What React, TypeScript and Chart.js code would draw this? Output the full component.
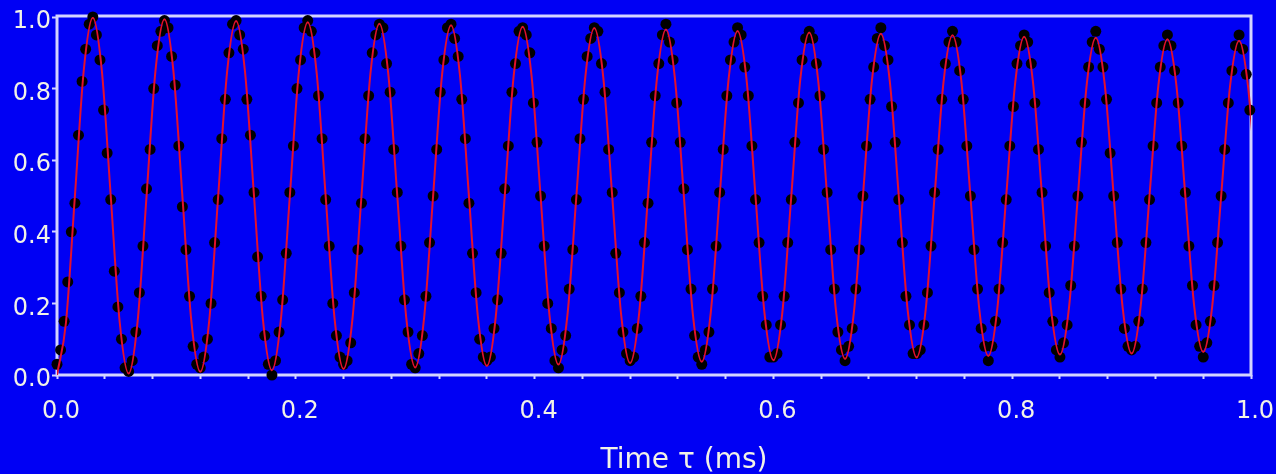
import React, { useEffect, useRef } from "react";
import { Chart, registerables } from "chart.js";

Chart.register(...registerables);

// ---- data ----
const X_TICK_LABELS = ["0.0", "0.2", "0.4", "0.6", "0.8", "1.0"];
const Y_TICK_LABELS = ["0.0", "0.2", "0.4", "0.6", "0.8", "1.0"];
const X_TITLE = "Time τ (ms)";

// measured points: one sample every SAMPLE_STEP ms starting at 0
const SAMPLE_STEP = 0.003;
const measured = [
  0.03, 0.07, 0.15, 0.26, 0.40, 0.48, 0.67, 0.82, 0.91, 0.98, 1.0, 0.95, 0.88, 0.74, 0.62, 0.49, 0.29, 0.19, 0.10, 0.02,
  0.01, 0.04, 0.12, 0.23, 0.36, 0.52, 0.63, 0.80, 0.92, 0.96, 0.99, 0.97, 0.89, 0.81, 0.64, 0.47, 0.35, 0.22, 0.08, 0.03,
  0.02, 0.05, 0.10, 0.20, 0.37, 0.49, 0.66, 0.77, 0.90, 0.98, 0.99, 0.95, 0.91, 0.77, 0.67, 0.51, 0.33, 0.22, 0.11, 0.03,
  0.00, 0.04, 0.12, 0.21, 0.34, 0.51, 0.64, 0.80, 0.88, 0.97, 0.99, 0.96, 0.90, 0.78, 0.66, 0.49, 0.36, 0.20, 0.11, 0.05,
  0.03, 0.04, 0.09, 0.23, 0.35, 0.48, 0.66, 0.78, 0.90, 0.95, 0.98, 0.97, 0.87, 0.79, 0.63, 0.51, 0.36, 0.21, 0.12, 0.03,
  0.02, 0.06, 0.11, 0.22, 0.37, 0.50, 0.63, 0.79, 0.88, 0.97, 0.98, 0.94, 0.89, 0.77, 0.66, 0.48, 0.34, 0.23, 0.10, 0.05,
  0.04, 0.05, 0.13, 0.21, 0.34, 0.52, 0.64, 0.79, 0.87, 0.96, 0.97, 0.95, 0.90, 0.76, 0.65, 0.50, 0.36, 0.20, 0.13, 0.04,
  0.02, 0.07, 0.11, 0.24, 0.35, 0.49, 0.66, 0.77, 0.89, 0.94, 0.97, 0.96, 0.87, 0.79, 0.63, 0.51, 0.34, 0.23, 0.12, 0.06,
  0.04, 0.05, 0.13, 0.22, 0.37, 0.48, 0.65, 0.78, 0.87, 0.95, 0.98, 0.93, 0.88, 0.76, 0.65, 0.52, 0.35, 0.24, 0.11, 0.05,
  0.03, 0.07, 0.12, 0.24, 0.36, 0.51, 0.63, 0.78, 0.88, 0.93, 0.97, 0.95, 0.86, 0.78, 0.64, 0.49, 0.37, 0.22, 0.14, 0.05,
  0.05, 0.06, 0.14, 0.22, 0.37, 0.49, 0.65, 0.76, 0.88, 0.94, 0.96, 0.94, 0.87, 0.78, 0.63, 0.51, 0.35, 0.24, 0.12, 0.07,
  0.04, 0.08, 0.13, 0.24, 0.35, 0.50, 0.64, 0.77, 0.86, 0.94, 0.97, 0.92, 0.88, 0.75, 0.65, 0.49, 0.37, 0.22, 0.14, 0.06,
  0.06, 0.07, 0.14, 0.23, 0.36, 0.51, 0.63, 0.77, 0.87, 0.93, 0.96, 0.93, 0.85, 0.77, 0.64, 0.50, 0.35, 0.24, 0.13, 0.08,
  0.04, 0.08, 0.15, 0.24, 0.37, 0.49, 0.64, 0.75, 0.87, 0.92, 0.95, 0.93, 0.87, 0.76, 0.63, 0.51, 0.36, 0.23, 0.15, 0.07,
  0.05, 0.09, 0.14, 0.25, 0.36, 0.50, 0.65, 0.76, 0.86, 0.93, 0.96, 0.91, 0.86, 0.77, 0.62, 0.50, 0.37, 0.24, 0.13, 0.08,
  0.07, 0.08, 0.15, 0.24, 0.37, 0.49, 0.64, 0.76, 0.86, 0.92, 0.95, 0.92, 0.85, 0.76, 0.64, 0.51, 0.36, 0.25, 0.14, 0.08,
  0.05, 0.09, 0.15, 0.25, 0.37, 0.50, 0.63, 0.76, 0.85, 0.92, 0.95, 0.91, 0.84, 0.74,
];

// fitted curve: one value every FIT_STEP ms starting at 0
const FIT_STEP = 0.0075;
const fitCurve = [
  0.000, 0.146, 0.5, 0.854, 0.998, 0.852, 0.5, 0.148,
  0.004, 0.149, 0.5, 0.851, 0.994, 0.849, 0.5, 0.151,
  0.009, 0.152, 0.5, 0.848, 0.989, 0.846, 0.5, 0.154,
  0.013, 0.155, 0.5, 0.845, 0.985, 0.843, 0.5, 0.157,
  0.017, 0.158, 0.5, 0.842, 0.981, 0.840, 0.5, 0.160,
  0.021, 0.161, 0.5, 0.839, 0.977, 0.837, 0.5, 0.163,
  0.025, 0.164, 0.5, 0.836, 0.973, 0.834, 0.5, 0.166,
  0.029, 0.167, 0.5, 0.833, 0.969, 0.832, 0.5, 0.168,
  0.033, 0.170, 0.5, 0.830, 0.965, 0.829, 0.5, 0.171,
  0.037, 0.173, 0.5, 0.827, 0.961, 0.826, 0.5, 0.174,
  0.041, 0.175, 0.5, 0.825, 0.957, 0.823, 0.5, 0.177,
  0.045, 0.178, 0.5, 0.822, 0.953, 0.820, 0.5, 0.180,
  0.049, 0.181, 0.5, 0.819, 0.949, 0.818, 0.5, 0.182,
  0.053, 0.184, 0.5, 0.816, 0.945, 0.815, 0.5, 0.185,
  0.057, 0.186, 0.5, 0.814, 0.942, 0.812, 0.5, 0.188,
  0.060, 0.189, 0.5, 0.811, 0.938, 0.810, 0.5, 0.190,
  0.064, 0.192, 0.5, 0.808, 0.934, 0.807, 0.5, 0.193,
];

// ---- styles ----
const BG = "#0000f4";
const FRAME = "#d4d4ff";
const TEXT = "#f2f2e6";
const FIT_COLOR = "#e4102c";
const DOT_COLOR = "#000000";
const FONT = '"DejaVu Sans", Verdana, sans-serif';

const framePlugin = {
  id: "frame",
  beforeDatasetsDraw(chart: any) {
    const { ctx, chartArea } = chart;
    const { left, top, right, bottom } = chartArea;
    ctx.save();
    ctx.strokeStyle = FRAME;
    ctx.lineWidth = 3;
    ctx.strokeRect(left, top - 1, right - left, bottom - top + 1);
    ctx.restore();
  },
};

// axis title, drawn a little right of centre as in the reference
const titlePlugin = {
  id: "shiftedTitle",
  afterDraw(chart: any) {
    const { ctx, chartArea } = chart;
    ctx.save();
    ctx.fillStyle = TEXT;
    ctx.font = `28px ${FONT}`;
    ctx.textAlign = "center";
    ctx.textBaseline = "alphabetic";
    ctx.fillText(X_TITLE, (chartArea.left + chartArea.right) / 2 + 30, 468);
    ctx.restore();
  },
};

export default function App() {
  const ref = useRef<HTMLCanvasElement | null>(null);

  useEffect(() => {
    document.body.style.margin = "0";
    document.body.style.background = BG;
    const canvas = ref.current;
    if (!canvas) return;

    const dotPoints = measured.map((y, i) => ({ x: i * SAMPLE_STEP, y }));
    const fitPoints = fitCurve.map((y, i) => ({ x: i * FIT_STEP, y }));

    const xLabel = (v: number) => {
      const r = Math.round(v / 0.2);
      return Math.abs(v - r * 0.2) < 1e-6 ? X_TICK_LABELS[r] ?? "" : "";
    };
    const yLabel = (v: number) => {
      const r = Math.round(v / 0.2);
      return Math.abs(v - r * 0.2) < 1e-6 ? Y_TICK_LABELS[r] ?? "" : "";
    };

    const chart = new Chart(canvas, {
      type: "scatter",
      data: {
        datasets: [
          {
            label: "fit",
            data: fitPoints,
            showLine: true,
            borderColor: FIT_COLOR,
            borderWidth: 2,
            pointRadius: 0,
            cubicInterpolationMode: "monotone",
            order: 0,
          } as any,
          {
            label: "measured",
            data: dotPoints,
            pointRadius: 5.5,
            pointBackgroundColor: DOT_COLOR,
            pointBorderWidth: 0,
            borderColor: DOT_COLOR,
            clip: false,
            order: 1,
          } as any,
        ],
      },
      options: {
        animation: false,
        responsive: false,
        devicePixelRatio: 1,
        layout: { padding: { top: 17, right: 25, bottom: 0, left: 0 } },
        plugins: {
          legend: { display: false },
          tooltip: { enabled: false },
        },
        font: { family: FONT },
        scales: {
          x: {
            type: "linear",
            min: 0,
            max: 1,
            afterFit: (s: any) => {
              s.height = 99;
              s.paddingLeft = 0;
              s.paddingRight = 0;
            },
            border: { display: false },
            grid: {
              display: true,
              drawOnChartArea: false,
              drawTicks: true,
              tickLength: 4,
              tickColor: FRAME,
              tickWidth: 2,
            },
            ticks: {
              stepSize: 0.04,
              autoSkip: false,
              maxRotation: 0,
              color: TEXT,
              font: { family: FONT, size: 24 },
              padding: 18,
              labelOffset: 4,
              callback: (v: any) => xLabel(Number(v)),
            },
          },
          y: {
            type: "linear",
            min: 0,
            max: 1,
            afterFit: (s: any) => {
              s.width = 57;
              s.paddingTop = 0;
              s.paddingBottom = 0;
            },
            border: { display: false },
            grid: {
              display: true,
              drawOnChartArea: false,
              drawTicks: true,
              tickLength: 5,
              tickColor: FRAME,
              tickWidth: 2,
            },
            ticks: {
              stepSize: 0.2,
              color: TEXT,
              font: { family: FONT, size: 24 },
              padding: 1,
              labelOffset: 5,
              callback: (v: any) => yLabel(Number(v)),
            },
          },
        },
      } as any,
      plugins: [framePlugin, titlePlugin],
    });

    return () => chart.destroy();
  }, []);

  return (
    <div style={{ width: 1276, height: 474, background: BG, overflow: "hidden" }}>
      <canvas ref={ref} width={1276} height={474} style={{ display: "block" }} />
    </div>
  );
}
